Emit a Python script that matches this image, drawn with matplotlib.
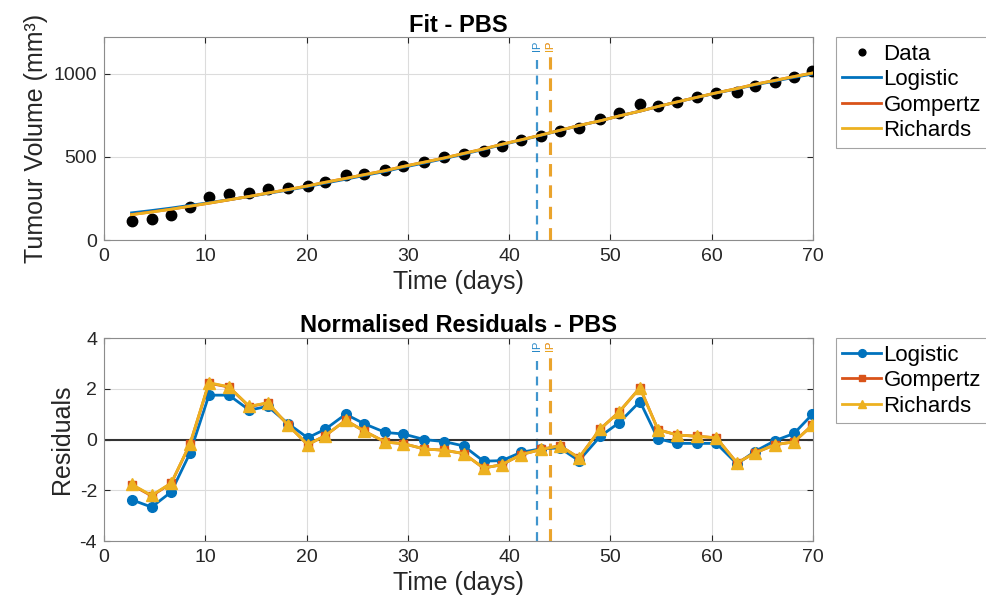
import matplotlib
matplotlib.use("Agg")
import matplotlib.pyplot as plt

plt.rcParams['font.family'] = ['Liberation Sans', 'DejaVu Sans']
plt.rcParams['axes.unicode_minus'] = False

# ---- data ----
days = [2.72, 4.70, 6.64, 8.49, 10.36, 12.33, 14.35, 16.16, 18.17, 20.11,
        21.86, 23.86, 25.71, 27.79, 29.56, 31.64, 33.60, 35.51, 37.47, 39.28,
        41.19, 43.17, 45.01, 46.89, 49.00, 50.84, 52.92, 54.70, 56.61, 58.59,
        60.46, 62.50, 64.25, 66.26, 68.13, 69.95]
volume = [116, 126, 152, 200, 258, 278, 286, 306, 314, 324,
          348, 390, 400, 424, 446, 470, 498, 518, 538, 566,
          600, 628, 658, 676, 728, 766, 816, 806, 832, 858,
          884, 890, 924, 952, 978, 1015]
fit_logistic = [164, 178, 193, 209, 225, 243, 262, 281, 301, 322,
                343, 366, 389, 413, 438, 464, 490, 517, 545, 573,
                601, 630, 659, 688, 717, 746, 775, 803, 831, 858,
                884, 909, 933, 956, 978, 998]
fit_gompertz = [154, 170, 186, 204, 222, 242, 263, 283, 304, 326,
                348, 371, 394, 418, 443, 469, 494, 521, 548, 576,
                603, 632, 660, 689, 717, 746, 775, 803, 831, 859,
                885, 911, 936, 960, 983, 1004]
fit_richards = [153, 169, 186, 204, 222, 242, 263, 283, 304, 326,
                348, 371, 394, 418, 443, 469, 494, 521, 548, 576,
                603, 632, 660, 689, 717, 746, 775, 803, 831, 859,
                885, 911, 936, 960, 983, 1004]

res_logistic = [-2.37, -2.66, -2.06, -0.53, 1.75, 1.75, 1.16, 1.31, 0.63, 0.07,
                0.41, 1.00, 0.62, 0.28, 0.22, 0.00, -0.08, -0.25, -0.85, -0.83,
                -0.50, -0.36, -0.33, -0.83, 0.13, 0.66, 1.50, 0.03, -0.15, -0.15,
                -0.15, -0.96, -0.47, -0.04, 0.24, 1.00]
res_gompertz = [-1.78, -2.22, -1.72, -0.18, 2.22, 2.07, 1.30, 1.44, 0.57, -0.20,
                0.16, 0.76, 0.33, -0.10, -0.16, -0.37, -0.42, -0.55, -1.12, -0.99,
                -0.59, -0.39, -0.24, -0.72, 0.42, 1.08, 2.04, 0.39, 0.18, 0.13,
                0.07, -0.92, -0.53, -0.20, -0.09, 0.57]
res_richards = [-1.76, -2.20, -1.71, -0.17, 2.24, 2.08, 1.31, 1.45, 0.57, -0.20,
                0.16, 0.76, 0.33, -0.10, -0.16, -0.37, -0.42, -0.55, -1.12, -0.99,
                -0.59, -0.39, -0.24, -0.72, 0.42, 1.08, 2.04, 0.39, 0.18, 0.13,
                0.07, -0.92, -0.53, -0.20, -0.09, 0.57]

ip_days = {'Logistic': 42.77, 'Gompertz': 43.99, 'Richards': 43.99}
model_names = ['Logistic', 'Gompertz', 'Richards']
colors = {'Logistic': '#0072BD', 'Gompertz': '#D95319', 'Richards': '#EDB120'}

xticks = [0, 10, 20, 30, 40, 50, 60, 70]
yticks_top = [0, 500, 1000]
yticks_bot = [-4, -2, 0, 2, 4]

# ---- figure ----
fig = plt.figure(figsize=(9.86, 6.08), dpi=100)
ax1 = fig.add_axes([0.1055, 0.605, 0.719, 0.334])
ax2 = fig.add_axes([0.1055, 0.110, 0.719, 0.334])

axcol = '#262626'
spinecol = '#8c8c8c'
FS_TICK = 14
FS_LAB = 18
FS_TITLE = 17
FS_LEG = 16


def style(ax):
    ax.set_xlim(0, 70)
    ax.set_xticks(xticks)
    ax.grid(True, color='#dcdcdc', linewidth=0.8)
    ax.set_axisbelow(True)
    for s in ax.spines.values():
        s.set_color(spinecol)
        s.set_linewidth(0.8)
    ax.tick_params(direction='in', top=True, right=True, length=4,
                   width=0.8, color=axcol, labelsize=FS_TICK, labelcolor=axcol)
    ax.tick_params(axis='x', pad=6)
    ax.tick_params(axis='y', pad=5)


def iplines(ax):
    for name in model_names:
        ax.axvline(ip_days[name], ymin=0, ymax=0.9, color=colors[name],
                   linestyle=(0, (4, 3)), linewidth=1.6 if name == 'Logistic' else 2.2,
                   alpha=0.75, zorder=1)
        ax.text(ip_days[name], 0.985, 'IP', transform=ax.get_xaxis_transform(),
                rotation=90, ha='center', va='top', fontsize=8,
                color=colors[name], alpha=0.85)


# top: fit
style(ax1)
ax1.set_ylim(0, 1220)
ax1.set_yticks(yticks_top)
iplines(ax1)
ax1.plot(days, volume, 'o', color='black', markersize=7.5, label='Data', zorder=3)
for name, fit in zip(model_names, [fit_logistic, fit_gompertz, fit_richards]):
    ax1.plot(days, fit, '-', color=colors[name], linewidth=2, label=name, zorder=4)
ax1.set_title('Fit - PBS', fontsize=FS_TITLE, fontweight='bold', pad=4)
ax1.set_xlabel('Time (days)', fontsize=FS_LAB, labelpad=3, color=axcol)
ax1.set_ylabel('Tumour Volume (mm³)', fontsize=FS_LAB, labelpad=4, color=axcol)
leg_kw = dict(loc='upper left', bbox_to_anchor=(1.032, 1.0), borderaxespad=0,
              fontsize=FS_LEG, handlelength=1.75, handletextpad=0.1,
              labelspacing=0.2, borderpad=0.3, frameon=True, fancybox=False)
leg1 = ax1.legend(markerscale=0.65, **leg_kw)
leg1.get_frame().set_edgecolor(spinecol)
leg1.get_frame().set_linewidth(0.8)

# bottom: residuals
style(ax2)
ax2.set_ylim(-4, 4)
ax2.set_yticks(yticks_bot)
ax2.axhline(0, color='#333333', linewidth=1.5, zorder=2)
iplines(ax2)
markers = {'Logistic': 'o', 'Gompertz': 's', 'Richards': '^'}
msize = {'Logistic': 7, 'Gompertz': 6, 'Richards': 8}
for name, res in zip(model_names, [res_logistic, res_gompertz, res_richards]):
    ax2.plot(days, res, '-', marker=markers[name], color=colors[name],
             markersize=msize[name], linewidth=2, label=name, zorder=4)
ax2.set_title('Normalised Residuals - PBS', fontsize=FS_TITLE, fontweight='bold', pad=4)
ax2.set_xlabel('Time (days)', fontsize=FS_LAB, labelpad=3, color=axcol)
ax2.set_ylabel('Residuals', fontsize=FS_LAB, labelpad=4, color=axcol)
leg2 = ax2.legend(markerscale=0.8, **leg_kw)
leg2.get_frame().set_edgecolor(spinecol)
leg2.get_frame().set_linewidth(0.8)

fig.savefig('out.png', dpi=100, facecolor='white')
